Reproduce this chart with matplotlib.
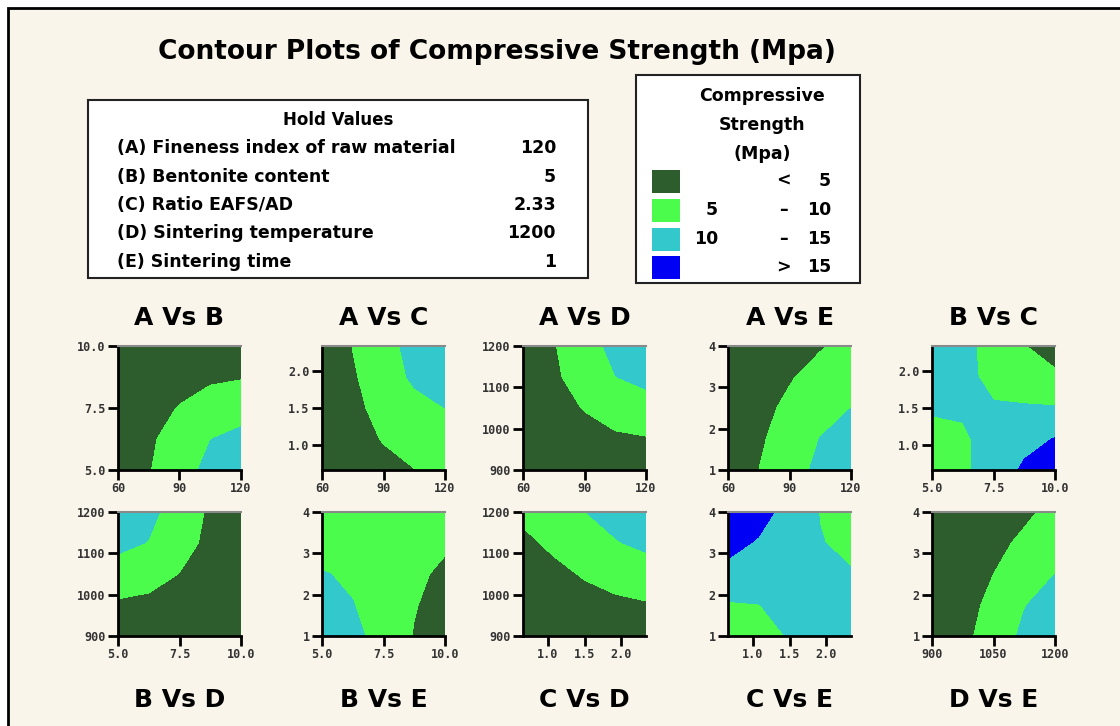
import numpy as np
import matplotlib
matplotlib.use("Agg")
import matplotlib.pyplot as plt
from matplotlib.patches import Rectangle

# factor ranges (low, high) and the ticks shown on each axis
factor_range = {"A": (60, 120), "B": (5, 10), "C": (0.667, 2.333),
                "D": (900, 1200), "E": (1, 4)}
factor_ticks = {"A": [60, 90, 120], "B": [5.0, 7.5, 10.0], "C": [1.0, 1.5, 2.0],
                "D": [900, 1000, 1100, 1200], "E": [1, 2, 3, 4]}
factor_ticklabels = {"A": ["60", "90", "120"], "B": ["5.0", "7.5", "10.0"],
                     "C": ["1.0", "1.5", "2.0"],
                     "D": ["900", "1000", "1100", "1200"], "E": ["1", "2", "3", "4"]}
# D vs E uses a coarser tick set on the x side
d_xticks = [900, 1050, 1200]
d_xticklabels = ["900", "1050", "1200"]

hold_names = ["(A) Fineness index of raw material", "(B) Bentonite content",
              "(C) Ratio EAFS/AD", "(D) Sintering temperature", "(E) Sintering time"]
hold_values = ["120", "5", "2.33", "1200", "1"]

levels = [-50, 5, 10, 15, 50]
band_colors = ["#2d5c2d", "#4cfc4c", "#33c9cc", "#0000f5"]
band_low = ["", "5", "10", ""]
band_sym = ["<", "\u2013", "\u2013", ">"]
band_high = ["5", "10", "15", "15"]

# strength on a 5x5 grid of each factor pair; rows run from low to high y-factor
ab_strength = [[1.4, 4.7, 8.0, 11.3, 14.6],
               [1.0, 4.2, 7.2, 9.9, 11.3],
               [-0.2, 2.7, 5.3, 7.2, 8.0],
               [-1.9, 0.6, 2.7, 4.2, 4.7],
               [-4.1, -1.9, -0.2, 1.0, 1.4]]
ac_strength = [[1.2, 2.3, 3.5, 4.9, 6.5],
               [1.4, 3.0, 5.3, 6.8, 8.2],
               [1.6, 3.8, 6.6, 8.5, 10.0],
               [1.8, 4.5, 7.5, 10.8, 12.3],
               [1.9, 5.1, 8.3, 11.5, 14.7]]
ad_strength = [[-4.1, -1.9, -0.2, 1.0, 1.4],
               [-1.9, 0.6, 2.7, 4.2, 4.7],
               [-0.2, 2.7, 5.3, 7.2, 8.0],
               [1.0, 4.2, 7.2, 9.9, 11.3],
               [1.4, 4.7, 8.0, 11.3, 14.6]]
ae_strength = [[2.0, 5.0, 8.0, 11.1, 14.1],
               [1.7, 4.3, 7.2, 10.1, 12.0],
               [1.3, 3.6, 6.0, 8.4, 10.0],
               [0.9, 2.5, 4.6, 6.8, 8.2],
               [0.5, 1.5, 3.0, 4.6, 6.6]]
bc_strength = [[7.5, 9.2, 12.0, 15.8, 17.0],
               [8.5, 9.3, 11.8, 13.5, 15.2],
               [10.5, 10.6, 10.4, 10.4, 10.3],
               [11.5, 11.2, 8.8, 7.5, 6.0],
               [12.0, 11.5, 8.0, 5.2, 2.5]]
bd_strength = [[0.9, 0.5, -0.7, -2.5, -4.8],
               [4.3, 3.8, 2.3, 0.1, -2.5],
               [7.8, 6.9, 4.9, 2.3, -0.7],
               [11.2, 9.8, 6.9, 3.8, 0.5],
               [14.6, 11.2, 7.8, 4.3, 0.9]]
be_strength = [[12.5, 11.0, 8.5, 4.7, 2.0],
               [11.5, 10.1, 8.5, 5.3, 3.0],
               [10.2, 9.5, 8.8, 6.0, 4.0],
               [8.5, 8.7, 8.8, 7.5, 5.7],
               [7.5, 8.0, 8.3, 8.0, 7.0]]
cd_strength = [[1.5, 2.2, 2.9, 3.5, 4.0],
               [2.2, 3.0, 3.8, 4.3, 4.7],
               [3.0, 4.1, 5.3, 6.3, 7.0],
               [4.2, 5.7, 7.8, 9.6, 11.3],
               [5.8, 7.5, 9.9, 12.0, 13.5]]
ce_strength = [[7.0, 8.3, 10.3, 11.5, 11.8],
               [9.5, 9.9, 11.5, 12.0, 11.5],
               [13.8, 13.0, 12.0, 11.2, 10.3],
               [16.2, 14.6, 12.5, 10.2, 9.0],
               [17.5, 16.5, 13.5, 9.8, 8.0]]
de_strength = [[1.5, 3.9, 7.0, 11.0, 13.5],
               [1.2, 3.3, 6.2, 9.8, 11.8],
               [0.9, 2.6, 5.0, 8.0, 10.0],
               [0.5, 1.8, 3.6, 6.0, 8.2],
               [0.0, 1.0, 2.3, 4.0, 6.5]]

panels = [("A", "B", ab_strength), ("A", "C", ac_strength), ("A", "D", ad_strength),
          ("A", "E", ae_strength), ("B", "C", bc_strength),
          ("B", "D", bd_strength), ("B", "E", be_strength), ("C", "D", cd_strength),
          ("C", "E", ce_strength), ("D", "E", de_strength)]

W, H = 1120, 726
bg = "#faf5ea"
fig = plt.figure(figsize=(W / 100, H / 100), dpi=100)
fig.patch.set_facecolor("white")

# full-size pixel canvas for the frame, boxes and text
canvas = fig.add_axes([0, 0, 1, 1])
canvas.set_xlim(0, W)
canvas.set_ylim(H, 0)
canvas.axis("off")
canvas.add_patch(Rectangle((8, 8), W + 20, H + 20, facecolor=bg, edgecolor="black", lw=2))

canvas.text(497, 52, "Contour Plots of Compressive Strength (Mpa)", ha="center", va="center",
            fontsize=19, fontweight="bold")

# hold values box
canvas.add_patch(Rectangle((88, 100), 500, 178, facecolor="white", edgecolor="#222222", lw=1.5))
canvas.text(338, 120, "Hold Values", ha="center", va="center", fontsize=12, fontweight="bold")
for i, (name, val) in enumerate(zip(hold_names, hold_values)):
    y = 148 + i * 28.5
    canvas.text(117, y, name, ha="left", va="center", fontsize=12.5, fontweight="bold")
    canvas.text(556, y, val, ha="right", va="center", fontsize=12.5, fontweight="bold")

# legend box
canvas.add_patch(Rectangle((636, 75), 224, 208, facecolor="white", edgecolor="#222222", lw=1.5))
for i, line in enumerate(["Compressive", "Strength", "(Mpa)"]):
    canvas.text(762, 96 + i * 29, line, ha="center", va="center", fontsize=12.5, fontweight="bold")
for i, c in enumerate(band_colors):
    y = 181 + i * 28.8
    canvas.add_patch(Rectangle((652, y - 11), 28, 23, facecolor=c, edgecolor="none"))
    canvas.text(718, y, band_low[i], ha="right", va="center", fontsize=12.5, fontweight="bold")
    canvas.text(783, y, band_sym[i], ha="center", va="center", fontsize=12.5, fontweight="bold")
    canvas.text(831, y, band_high[i], ha="right", va="center", fontsize=12.5, fontweight="bold")

col_left = [118, 322, 523, 728, 932]
row_top = [346, 512]
ax_w, ax_h = 123, 124

for k, (xf, yf, strength) in enumerate(panels):
    r, c = divmod(k, 5)
    left, top = col_left[c], row_top[r]
    ax = fig.add_axes([left / W, (H - top - ax_h) / H, ax_w / W, ax_h / H])
    xs = np.linspace(*factor_range[xf], 5)
    ys = np.linspace(*factor_range[yf], 5)
    ax.contourf(xs, ys, np.array(strength), levels=levels, colors=band_colors)
    ax.set_xlim(*factor_range[xf])
    ax.set_ylim(*factor_range[yf])
    if xf == "D":
        ax.set_xticks(d_xticks, d_xticklabels)
    else:
        ax.set_xticks(factor_ticks[xf], factor_ticklabels[xf])
    ax.set_yticks(factor_ticks[yf], factor_ticklabels[yf])
    ax.tick_params(direction="out", length=7, width=2, pad=2, labelsize=8.5, colors="black")
    for lab in ax.get_xticklabels() + ax.get_yticklabels():
        lab.set_fontweight("bold")
        lab.set_family("DejaVu Sans Mono")
        lab.set_color("#333333")
    for side in ("left", "bottom"):
        ax.spines[side].set_linewidth(2)
    ax.spines["top"].set_linewidth(1.5)
    ax.spines["top"].set_color("#8a8a8a")
    ax.spines["right"].set_visible(False)
    title = f"{xf} Vs {yf}"
    cx = left + ax_w / 2
    ty = 318 if r == 0 else 700
    canvas.text(cx, ty, title, ha="center", va="center", fontsize=18, fontweight="bold")

fig.savefig("out.png", dpi=100, facecolor=fig.get_facecolor())
